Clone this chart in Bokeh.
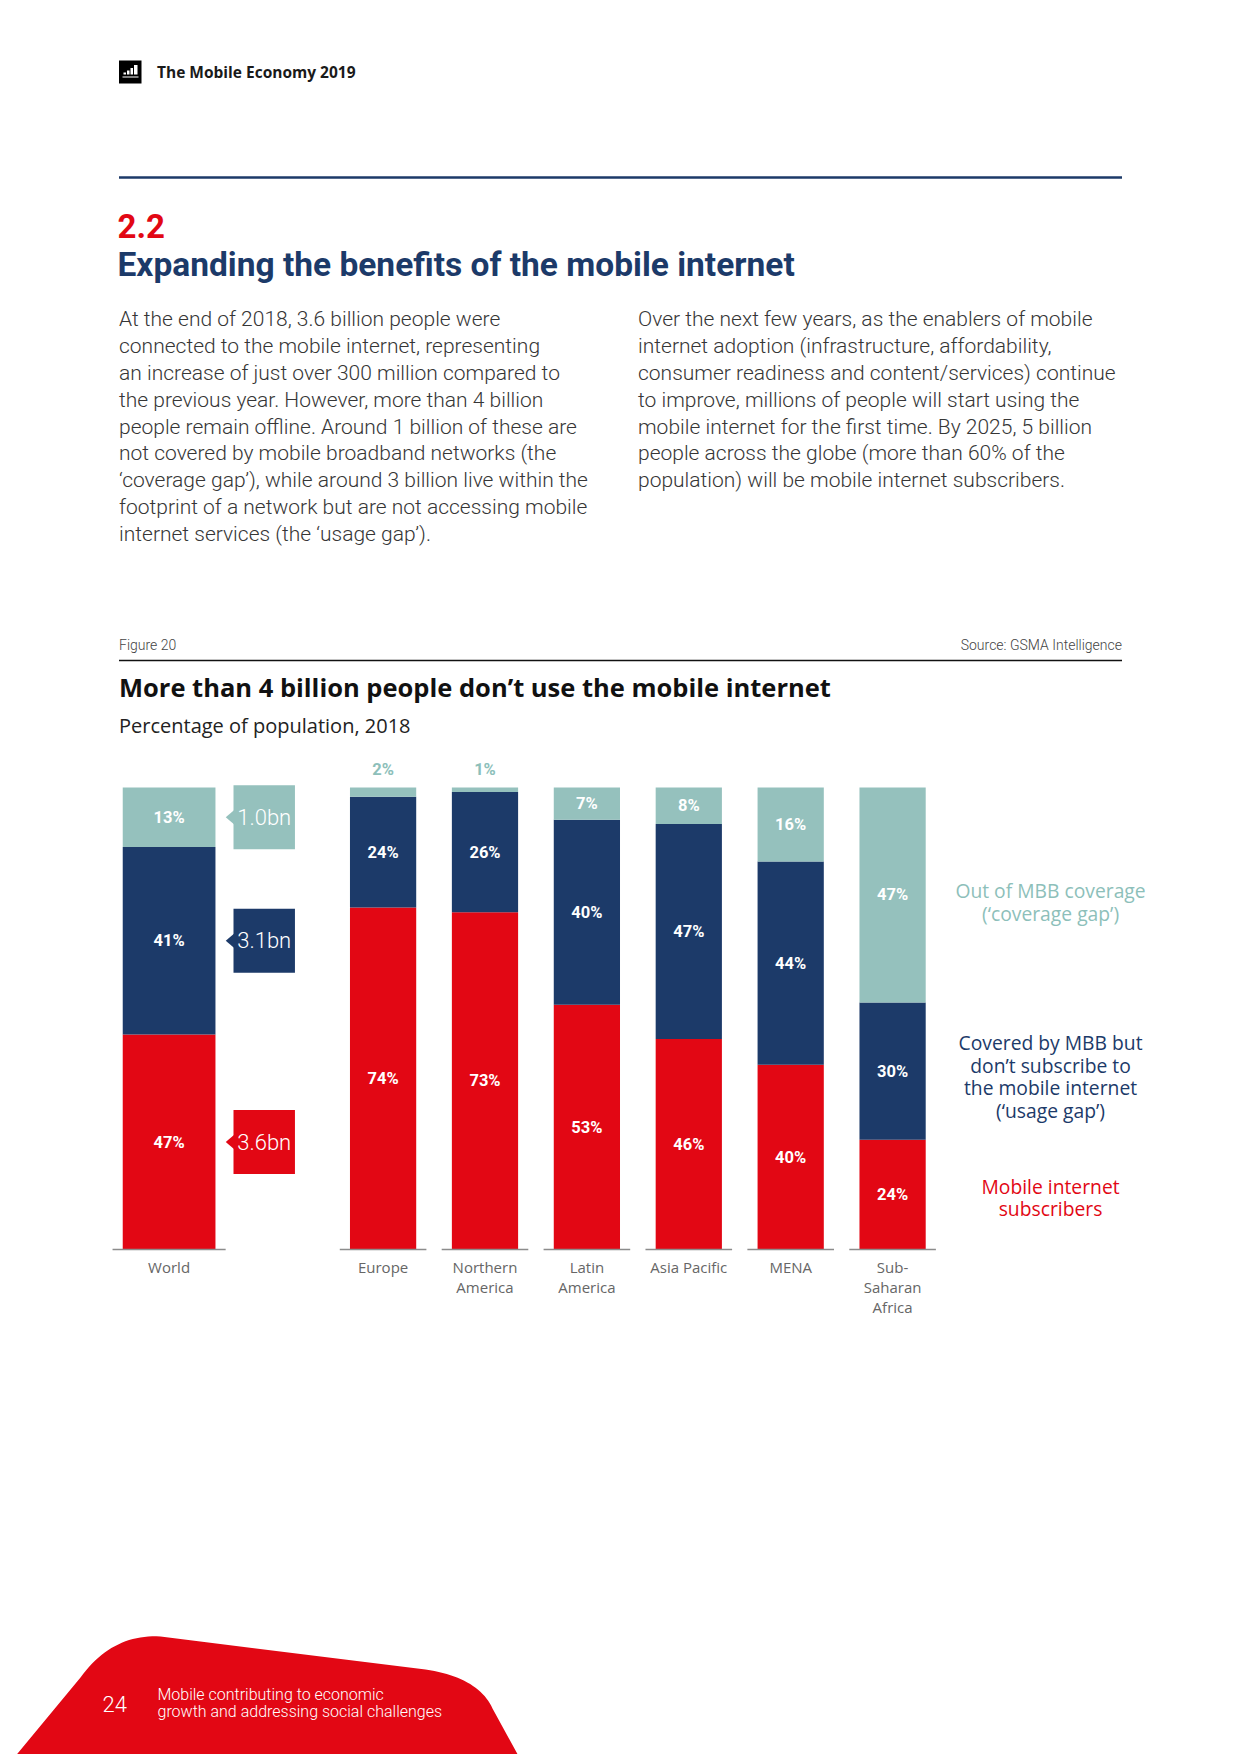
import numpy as np
from bokeh.plotting import figure
from bokeh.models import Range1d, LinearScale
from bokeh.core.properties import value
from bokeh.embed import file_html
from bokeh.resources import INLINE

# ---------------- data ----------------
categories = ["World", "Europe", "Northern America", "Latin America",
              "Asia Pacific", "MENA", "Sub-Saharan Africa"]
category_labels = ["World", "Europe", "Northern\nAmerica", "Latin\nAmerica",
                   "Asia Pacific", "MENA", "Sub-\nSaharan\nAfrica"]
subscribers = [47, 74, 73, 53, 46, 40, 24]      # Mobile internet subscribers
usage_gap = [41, 24, 26, 40, 47, 44, 30]        # Covered by MBB but don't subscribe
coverage_gap = [13, 2, 1, 7, 8, 16, 47]         # Out of MBB coverage
world_totals = ["3.6bn", "3.1bn", "1.0bn"]      # subscribers, usage gap, coverage gap
series_names = ["Mobile internet\nsubscribers",
                "Covered by MBB but\ndon’t subscribe to\nthe mobile internet\n(‘usage gap’)",
                "Out of MBB coverage\n(‘coverage gap’)"]

header_text = "The Mobile Economy 2019"
section_no = "2.2"
section_title = "Expanding the benefits of the mobile internet"
left_col = [
    "At the end of 2018, 3.6 billion people were",
    "connected to the mobile internet, representing",
    "an increase of just over 300 million compared to",
    "the previous year. However, more than 4 billion",
    "people remain offline. Around 1 billion of these are",
    "not covered by mobile broadband networks (the",
    "‘coverage gap’), while around 3 billion live within the",
    "footprint of a network but are not accessing mobile",
    "internet services (the ‘usage gap’).",
]
right_col = [
    "Over the next few years, as the enablers of mobile",
    "internet adoption (infrastructure, affordability,",
    "consumer readiness and content/services) continue",
    "to improve, millions of people will start using the",
    "mobile internet for the first time. By 2025, 5 billion",
    "people across the globe (more than 60% of the",
    "population) will be mobile internet subscribers.",
]
figure_no = "Figure 20"
source_txt = "Source: GSMA Intelligence"
chart_title = "More than 4 billion people don’t use the mobile internet"
chart_sub = "Percentage of population, 2018"
page_no = "24"
footer_lines = ["Mobile contributing to economic", "growth and addressing social challenges"]

# ---------------- styles / layout ----------------
RED = "#e20714"
NAVY = "#1c3a69"
TEAL = "#95c1bd"
TEAL_TXT = "#8dbfba"
GREY = "#666666"
BODY = "#363636"
SANS = value("Roboto")
OPEN = value("Open Sans")
LIGHT = value("Roboto Light")

W, H = 1240, 1754
LEFT, TOP = 0, 0
X0, U = 168.6, 101.9        # page x of World centre, px per slot
GAP = 2.1                   # slots between World and Europe
YB, YT = 1249.0, 787.0      # page y of 0% and 100%
P = (YB - YT) / 100.0

p = figure(width=W, height=H, output_backend="svg", toolbar_location=None,
           x_range=Range1d(LEFT, LEFT + W), y_range=Range1d(TOP + H, TOP),
           x_axis_location=None, y_axis_location=None, min_border=0,
           background_fill_color="white", border_fill_color="white",
           outline_line_color=None)
p.grid.visible = False
p.extra_x_ranges = {"cat": Range1d((LEFT - X0) / U, (LEFT + W - X0) / U)}
p.extra_y_ranges = {"pct": Range1d((YB - TOP - H) / P, (YB - TOP) / P)}
p.extra_x_scales = {"cat": LinearScale()}
p.extra_y_scales = {"pct": LinearScale()}

CAT = dict(x_range_name="cat", y_range_name="pct")

# ---------------- page header ----------------
p.quad(left=[118.5], right=[141], top=[60], bottom=[83], fill_color="black", line_color=None)
p.quad(left=[123, 126.5, 130, 133.5], right=[125.5, 129, 132.5, 137],
       top=[72, 70, 67.5, 64.5], bottom=[74, 74, 74, 74], fill_color="white", line_color=None)
p.quad(left=[122], right=[138], top=[76], bottom=[77], fill_color="white", line_color=None)
p.text(x=[156.5], y=[71], text=[header_text], text_font=OPEN, text_font_style="bold",
       text_font_size="15.5px", text_color="#1a1a1a", text_baseline="middle")
p.segment(x0=[118.5], x1=[1121.5], y0=[177], y1=[177], line_color=NAVY, line_width=2.5)
p.text(x=[117], y=[225], text=[section_no], text_font=SANS, text_font_style="bold",
       text_font_size="33px", text_color=RED, text_baseline="middle")
p.text(x=[117], y=[264], text=[section_title], text_font=SANS, text_font_style="bold",
       text_font_size="33.5px", text_color=NAVY, text_baseline="middle")

ly = 318.7 + 26.85 * np.arange(len(left_col))
p.text(x=[118.5] * len(left_col), y=ly, text=left_col, text_font=LIGHT,
       text_font_size="21px", text_color=BODY, text_baseline="middle")
ry = 318.7 + 26.85 * np.arange(len(right_col))
p.text(x=[637.5] * len(right_col), y=ry, text=right_col, text_font=LIGHT,
       text_font_size="21px", text_color=BODY, text_baseline="middle")

p.text(x=[118.5], y=[644], text=[figure_no], text_font=LIGHT, text_font_size="14px",
       text_color="#444444", text_baseline="middle")
p.text(x=[1121.5], y=[644], text=[source_txt], text_font=LIGHT, text_font_size="14px",
       text_color="#444444", text_baseline="middle", text_align="right")
p.segment(x0=[118.5], x1=[1121.5], y0=[660], y1=[660], line_color="#111111", line_width=1.5)
p.text(x=[118.5], y=[686.5], text=[chart_title], text_font=OPEN, text_font_style="bold",
       text_font_size="25.5px", text_color="#111111", text_baseline="middle")
p.text(x=[118.5], y=[724.5], text=[chart_sub], text_font=OPEN, text_font_size="20px",
       text_color="#222222", text_baseline="middle")

# ---------------- chart ----------------
n = len(categories)
sub = np.array(subscribers, float)
use = np.array(usage_gap, float)
cov = np.array(coverage_gap, float)
tot = sub + use + cov
s_top = sub / tot * 100
u_top = s_top + use / tot * 100
xpos = np.concatenate([[0.0], GAP + np.arange(n - 1)])
bw = np.where(np.arange(n) == 0, 0.91, 0.65)

p.vbar(x=xpos, width=bw, bottom=np.zeros(n), top=s_top, fill_color=RED, line_color=None, **CAT)
p.vbar(x=xpos, width=bw, bottom=s_top, top=u_top, fill_color=NAVY, line_color=None, **CAT)
p.vbar(x=xpos, width=bw, bottom=u_top, top=np.full(n, 100.0), fill_color=TEAL, line_color=None, **CAT)

# baselines
p.segment(x0=xpos - bw / 2 - 0.1, x1=xpos + bw / 2 + 0.1, y0=np.zeros(n), y1=np.zeros(n),
          line_color="#8c8c8c", line_width=1.5, **CAT)

# value labels
in_x, in_y, in_t = [], [], []
up_x, up_y, up_t = [], [], []
for i in range(n):
    segs = [(0.0, s_top[i], subscribers[i]), (s_top[i], u_top[i], usage_gap[i]),
            (u_top[i], 100.0, coverage_gap[i])]
    for b, t, v in segs:
        if v < 5:
            up_x.append(xpos[i]); up_y.append(100 + 18 / P); up_t.append(f"{v}%")
        else:
            in_x.append(xpos[i]); in_y.append((b + t) / 2); in_t.append(f"{v}%")
p.text(x=in_x, y=in_y, text=in_t, text_font=SANS, text_font_style="bold", text_font_size="16.5px",
       text_color="white", text_align="center", text_baseline="middle", **CAT)
p.text(x=up_x, y=up_y, text=up_t, text_font=SANS, text_font_style="bold", text_font_size="16.5px",
       text_color=TEAL_TXT, text_align="center", text_baseline="middle", **CAT)

# World callouts
w_cy = [s_top[0] / 2, (s_top[0] + u_top[0]) / 2, (u_top[0] + 100) / 2]
w_col = [RED, NAVY, TEAL]
bl, br, tip = 0.632, 1.235, 0.556
p.rect(x=[(bl + br) / 2] * 3, y=w_cy, width=br - bl, height=[64] * 3, height_units="screen",
       fill_color=w_col, line_color=None, **CAT)
p.patches(xs=[[tip, bl + 0.01, bl + 0.01]] * 3,
          ys=[[c, c + 7.5 / P, c - 7.5 / P] for c in w_cy],
          fill_color=w_col, line_color=None, **CAT)
p.text(x=[(bl + br) / 2] * 3, y=w_cy, text=world_totals, text_font=LIGHT, text_font_size="22px",
       text_color="white", text_align="center", text_baseline="middle", **CAT)

# category labels
p.text(x=xpos, y=[1256] * n, text=category_labels, text_font=OPEN, text_font_size="15px",
       text_color=GREY, text_align="center", text_baseline="top", text_line_height=1.0,
       x_range_name="cat")

# series legend aligned to last bar's segments
lx = xpos[-1] + 1.55
l_cy = np.array([s_top[-1] / 2, (s_top[-1] + u_top[-1]) / 2, (u_top[-1] + 100) / 2])
l_shift = np.array([3.0, 5.5, 7.0]) / P     # px nudge downwards
p.text(x=[lx] * 3, y=l_cy - l_shift, text=series_names, text_font=OPEN, text_font_size="19.3px",
       text_color=[RED, NAVY, TEAL_TXT], text_align="center", text_baseline="middle",
       text_line_height=0.83, **CAT)

# ---------------- footer ----------------
def qbez(a, c, b, k=24):
    t = np.linspace(0, 1, k)[:, None]
    a, c, b = map(np.array, (a, c, b))
    return (1 - t) ** 2 * a + 2 * (1 - t) * t * c + t ** 2 * b

pts = np.vstack([
    [[3, 1770]],
    qbez((80, 1677), (112, 1633), (160, 1636)),
    qbez((425, 1669), (478, 1677), (492, 1708)),
    [[526, 1770]],
])
p.patch(x=pts[:, 0], y=pts[:, 1], fill_color=RED, line_color=None)
p.text(x=[102], y=[1703], text=[page_no], text_font=LIGHT, text_font_size="22px",
       text_color="white", text_baseline="middle")
p.text(x=[157, 157], y=[1694, 1711], text=footer_lines, text_font=LIGHT, text_font_size="16px",
       text_color="white", text_baseline="middle")

open("out.html", "w").write(file_html(p, INLINE))
